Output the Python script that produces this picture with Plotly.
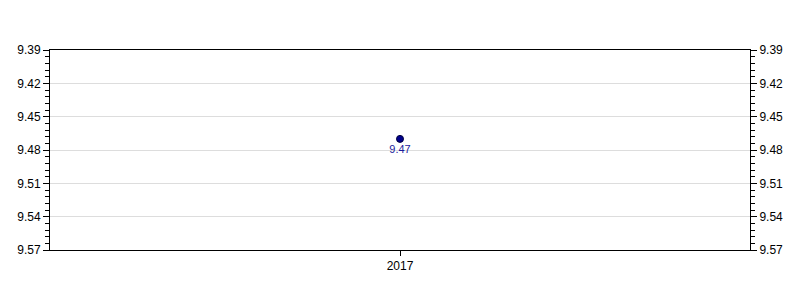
import plotly.graph_objects as go

years = ["2017"]
values = [9.47]
value_labels = ["9.47"]

fig = go.Figure()
fig.add_trace(go.Scatter(
    x=years, y=values, mode="markers+text",
    text=value_labels, textposition="bottom center",
    textfont=dict(color="#1c1c9c", size=11, family="Arial"),
    marker=dict(color="#00008b", size=7, line=dict(color="#000040", width=1)),
    showlegend=False, hoverinfo="skip",
))
fig.add_trace(go.Scatter(
    x=years, y=values, yaxis="y2", mode="markers",
    marker=dict(opacity=0), showlegend=False, hoverinfo="skip",
))

axis_font = dict(family="Arial", size=12, color="black")
yaxis_common = dict(
    range=[9.57, 9.39], tick0=9.39, dtick=0.03, tickformat=".2f",
    ticks="outside", ticklen=6, tickcolor="black", tickwidth=1,
    tickfont=axis_font, showline=True, linecolor="black", linewidth=1,
    minor=dict(dtick=0.006, ticks="outside", ticklen=4, tickcolor="black", showgrid=False),
    zeroline=False,
)
fig.update_layout(
    width=800, height=300,
    margin=dict(l=50, r=50, t=50, b=50),
    paper_bgcolor="white", plot_bgcolor="white",
    xaxis=dict(type="category", range=[-0.5, 0.5], showline=True, mirror=True,
               linecolor="black", linewidth=1, ticks="outside", ticklen=5,
               tickcolor="black", tickfont=axis_font, showgrid=False),
    yaxis=dict(**yaxis_common, showgrid=True, gridcolor="#dddddd", gridwidth=1, side="left"),
    yaxis2=dict(**yaxis_common, overlaying="y", side="right", showgrid=False),
)
fig.write_html("out.html")
